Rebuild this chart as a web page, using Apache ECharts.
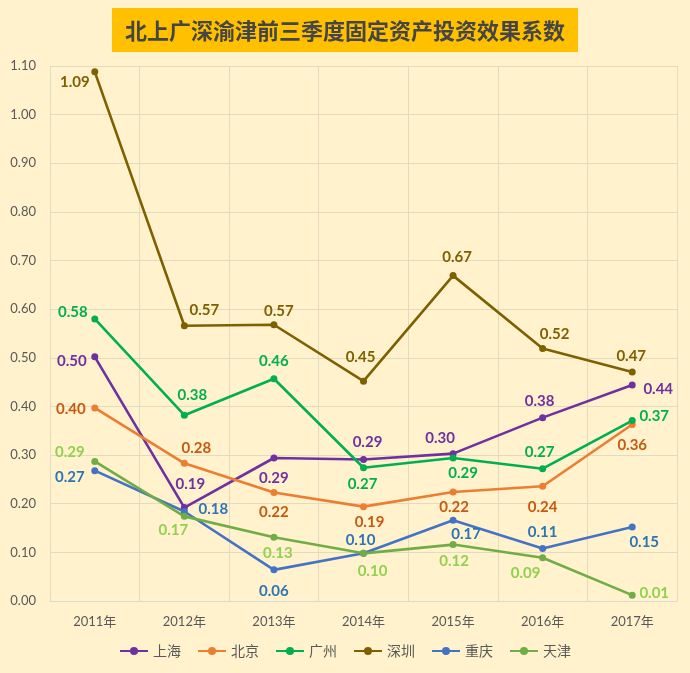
<!DOCTYPE html>
<html><head><meta charset="utf-8">
<script src="https://cdn.jsdelivr.net/npm/echarts@6/dist/echarts.min.js"></script>
<style>html,body{margin:0;padding:0;background:#FFF2CC;}#c{width:690px;height:673px;}</style>
</head><body><div id="c"></div>
<script>
var titleText = '北上广深渝津前三季度固定资产投资效果系数';
var categories = ['2011年','2012年','2013年','2014年','2015年','2016年','2017年'];
var seriesNames = ['上海','北京','广州','深圳','重庆','天津'];
var shanghai = [0.502, 0.192, 0.294, 0.291, 0.303, 0.377, 0.444];
var beijing  = [0.397, 0.283, 0.223, 0.194, 0.224, 0.236, 0.363];
var guangzhou= [0.580, 0.382, 0.457, 0.274, 0.294, 0.272, 0.371];
var shenzhen = [1.088, 0.566, 0.568, 0.452, 0.669, 0.519, 0.471];
var chongqing= [0.268, 0.184, 0.064, 0.098, 0.166, 0.108, 0.152];
var tianjin  = [0.287, 0.174, 0.131, 0.098, 0.116, 0.089, 0.012];
var yTicks = {min: 0, max: 1.1, interval: 0.1};

var values = [shanghai, beijing, guangzhou, shenzhen, chongqing, tianjin];
var lineColors = ['#7030A0','#ED7D31','#00B050','#7F6000','#4472C4','#70AD47'];
var labelColors = ['#7030A0','#C55A11','#00B050','#7F6000','#2E75B6','#92D050'];
var labelOffsets = [
  [[-23,4],[6,-23],[0,20],[4,-17],[-13,-15],[-3,-16],[26,4]],
  [[-24,1],[12,-15],[0,20],[6,16],[1,15],[0,21],[0,21]],
  [[-22,-7],[8,-20],[0,-18],[-1,16],[10,15],[-3,-17],[22,-4]],
  [[-20,10],[20,-16],[5,-14],[-3,-24],[4,-18],[12,-14],[-1,-16]],
  [[-25,7],[29,-2],[0,21],[-3,-13],[13,14],[0,-16],[12,15]],
  [[-25,-9],[-11,14],[4,16],[9,18],[1,17],[-17,15],[22,-2]]
];
var font = 'Lato, "Noto Sans CJK SC", sans-serif';

var series = seriesNames.map(function(name, i){
  return {
    name: name, type: 'line',
    symbol: 'circle', symbolSize: 7,
    lineStyle: {width: 2.6, color: lineColors[i]},
    itemStyle: {color: lineColors[i]},
    data: values[i].map(function(v, j){
      return {value: v, label: {show: true, position: 'inside', offset: labelOffsets[i][j],
        formatter: function(p){ return p.value.toFixed(2); },
        color: labelColors[i], fontWeight: 'bold', fontSize: 15, fontFamily: font}};
    })
  };
});

var chart = echarts.init(document.getElementById('c'), null, {renderer: 'canvas'});
chart.setOption({
  backgroundColor: '#FFF2CC',
  animation: false,
  title: {
    text: titleText, left: 'center', top: 8,
    backgroundColor: '#FFC000', padding: [8, 13, 7, 13],
    textStyle: {fontFamily: '"Noto Sans CJK SC", sans-serif', fontWeight: 'bold', fontSize: 22, color: '#454545', lineHeight: 29}
  },
  grid: {left: 50, right: 13, top: 66, bottom: 72},
  legend: {
    data: seriesNames, bottom: 10, left: 'center', itemWidth: 28, itemHeight: 10, itemGap: 16,
    textStyle: {color: '#595959', fontSize: 14, fontFamily: font}
  },
  xAxis: {
    type: 'category', data: categories, boundaryGap: true,
    axisLine: {lineStyle: {color: '#D9D9D9'}},
    axisTick: {show: false},
    splitLine: {show: true, lineStyle: {color: '#E3DBBF', width: 1}},
    axisLabel: {color: '#595959', fontSize: 13, fontFamily: font, margin: 14}
  },
  yAxis: {
    type: 'value', min: yTicks.min, max: yTicks.max, interval: yTicks.interval,
    axisLine: {show: false}, axisTick: {show: false},
    splitLine: {lineStyle: {color: '#E3DBBF', width: 1}},
    axisLabel: {color: '#595959', fontSize: 13, fontFamily: font, margin: 14,
      formatter: function(v){ return v.toFixed(2); }}
  },
  series: series
});
</script></body></html>
